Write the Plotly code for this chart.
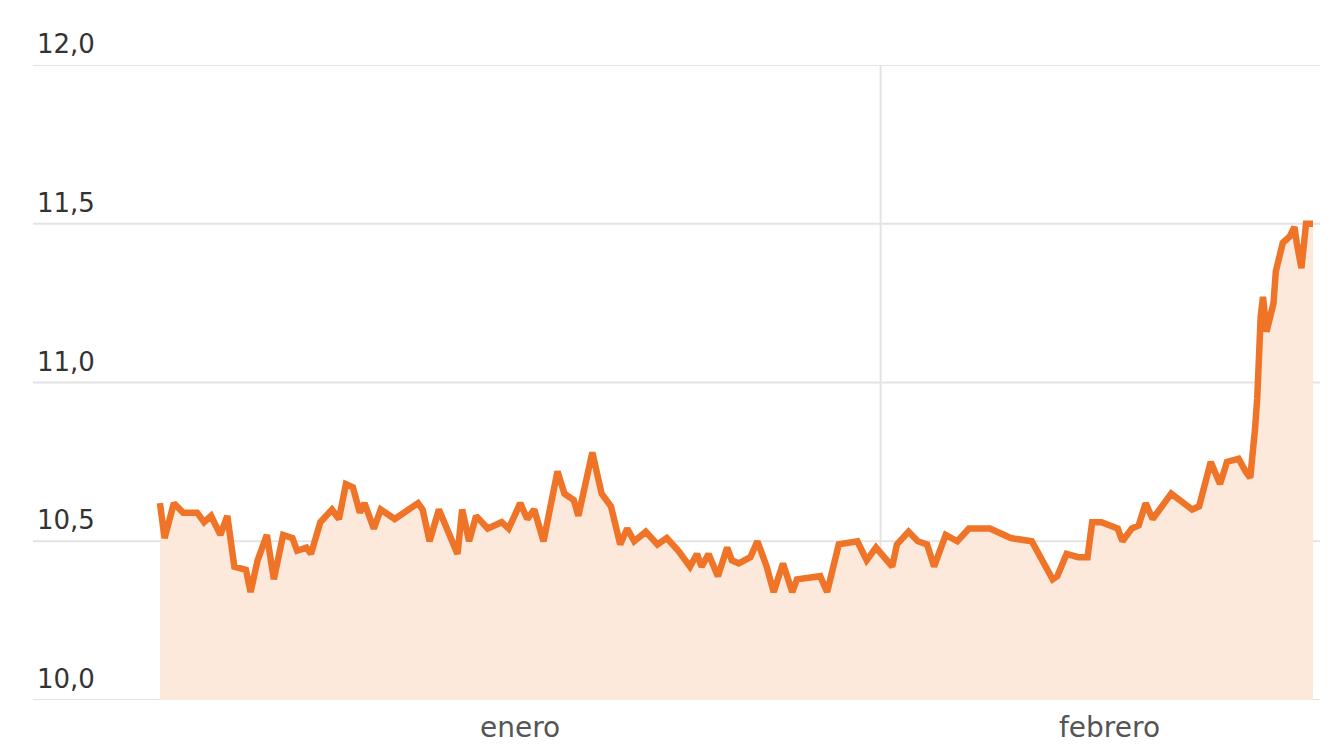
import plotly.graph_objects as go

# Daily quote series (day counted from 1 January) and its value
dias = [0.0, 0.2, 0.6, 1.0, 1.6, 1.9, 2.2, 2.6, 2.9, 3.2, 3.7, 3.9, 4.2, 4.6, 4.9,
        5.3, 5.7, 5.9, 6.3, 6.5, 6.9, 7.4, 7.7, 8.0, 8.3, 8.6, 8.8, 9.2, 9.5, 10.1,
        11.1, 11.3, 11.6, 12.0, 12.8, 13.0, 13.3, 13.6, 14.1, 14.7, 15.0, 15.5, 15.8,
        16.1, 16.5, 17.1, 17.4, 17.8, 18.0, 18.3, 18.6, 19.0, 19.4, 19.8, 20.1, 20.4,
        20.9, 21.4, 21.8, 22.3, 22.8, 23.1, 23.3, 23.6, 24.0, 24.4, 24.6, 24.9, 25.4,
        25.7, 26.1, 26.4, 26.8, 27.2, 27.4, 28.4, 28.7, 29.2, 30.0, 30.4, 30.8, 31.5,
        31.7, 32.2, 32.6, 33.0, 33.3, 33.8, 34.3, 34.8, 35.7, 36.6, 37.5, 38.4, 38.6,
        39.0, 39.5, 39.9, 40.1, 40.5, 41.2, 41.4, 41.8, 42.1, 42.4, 42.7, 43.5, 44.4,
        44.7, 45.2, 45.6, 45.9, 46.4, 46.7, 46.9, 47.1, 47.2, 47.35, 47.45, 47.6, 47.9,
        48.0, 48.3, 48.6, 48.8, 48.9, 49.1, 49.3, 49.6]
valores = [10.62, 10.51, 10.62, 10.59, 10.59, 10.56, 10.58, 10.52, 10.58, 10.42, 10.41,
           10.34, 10.44, 10.52, 10.38, 10.52, 10.51, 10.47, 10.48, 10.46, 10.56, 10.60,
           10.57, 10.68, 10.67, 10.59, 10.62, 10.54, 10.60, 10.57, 10.62, 10.60, 10.50,
           10.60, 10.46, 10.60, 10.50, 10.58, 10.54, 10.56, 10.54, 10.62, 10.57, 10.60,
           10.50, 10.72, 10.65, 10.63, 10.58, 10.68, 10.78, 10.65, 10.61, 10.49, 10.54,
           10.50, 10.53, 10.49, 10.51, 10.47, 10.42, 10.46, 10.42, 10.46, 10.39, 10.48,
           10.44, 10.43, 10.45, 10.50, 10.42, 10.34, 10.43, 10.34, 10.38, 10.39, 10.34,
           10.49, 10.50, 10.44, 10.48, 10.42, 10.49, 10.53, 10.50, 10.49, 10.42, 10.52,
           10.50, 10.54, 10.54, 10.51, 10.50, 10.38, 10.39, 10.46, 10.45, 10.45, 10.56,
           10.56, 10.54, 10.50, 10.54, 10.55, 10.62, 10.57, 10.65, 10.60, 10.61, 10.75,
           10.68, 10.75, 10.76, 10.72, 10.70, 10.85, 10.95, 11.21, 11.27, 11.16, 11.25,
           11.35, 11.44, 11.46, 11.49, 11.44, 11.36, 11.50, 11.50]

y_ticks = [10.0, 10.5, 11.0, 11.5, 12.0]
y_tick_labels = ["10,0", "10,5", "11,0", "11,5", "12,0"]
meses = ["enero", "febrero"]
meses_centro = [15.5, 40.85]
inicio_febrero = 31.0

X_RANGE = [-5.46, 49.9]
Y_RANGE = [10.0, 12.0]

LINE_COLOR = "#ef7427"
FILL_COLOR = "#fde8dc"
GRID_COLOR = "#e3e3e3"
FONT = "DejaVu Sans"

fig = go.Figure()
fig.add_trace(go.Scatter(
    x=dias, y=valores, mode="lines",
    line=dict(color=LINE_COLOR, width=6.5, shape="linear"),
    fill="tozeroy", fillcolor=FILL_COLOR,
    hoverinfo="skip", showlegend=False,
))

shapes = []
for v in y_ticks:
    shapes.append(dict(type="line", xref="paper", yref="y", x0=0, x1=1, y0=v, y1=v,
                       line=dict(color=GRID_COLOR, width=2), layer="below"))
shapes.append(dict(type="line", xref="x", yref="y", x0=inicio_febrero, x1=inicio_febrero,
                   y0=Y_RANGE[0], y1=Y_RANGE[1],
                   line=dict(color=GRID_COLOR, width=2), layer="below"))

annotations = []
for v, t in zip(y_ticks, y_tick_labels):
    annotations.append(dict(x=0, xref="paper", xanchor="left", xshift=3,
                            y=v, yref="y", yanchor="middle", yshift=21,
                            text=t, showarrow=False, borderpad=0,
                            font=dict(family=FONT, size=26, color="#333333")))
for m, c in zip(meses, meses_centro):
    annotations.append(dict(x=c, xref="x", xanchor="center",
                            y=0, yref="paper", yanchor="middle", yshift=-27,
                            text=m, showarrow=False, borderpad=0,
                            font=dict(family=FONT, size=28, color="#555555")))

fig.update_layout(
    width=1343, height=746,
    margin=dict(l=33, r=23, t=65, b=46),
    paper_bgcolor="white", plot_bgcolor="white",
    xaxis=dict(range=X_RANGE, showgrid=False, zeroline=False, showticklabels=False,
               ticks="", showline=False),
    yaxis=dict(range=Y_RANGE, showgrid=False, zeroline=False, showticklabels=False,
               ticks="", showline=False),
    shapes=shapes, annotations=annotations,
)

fig.write_html("out.html")
